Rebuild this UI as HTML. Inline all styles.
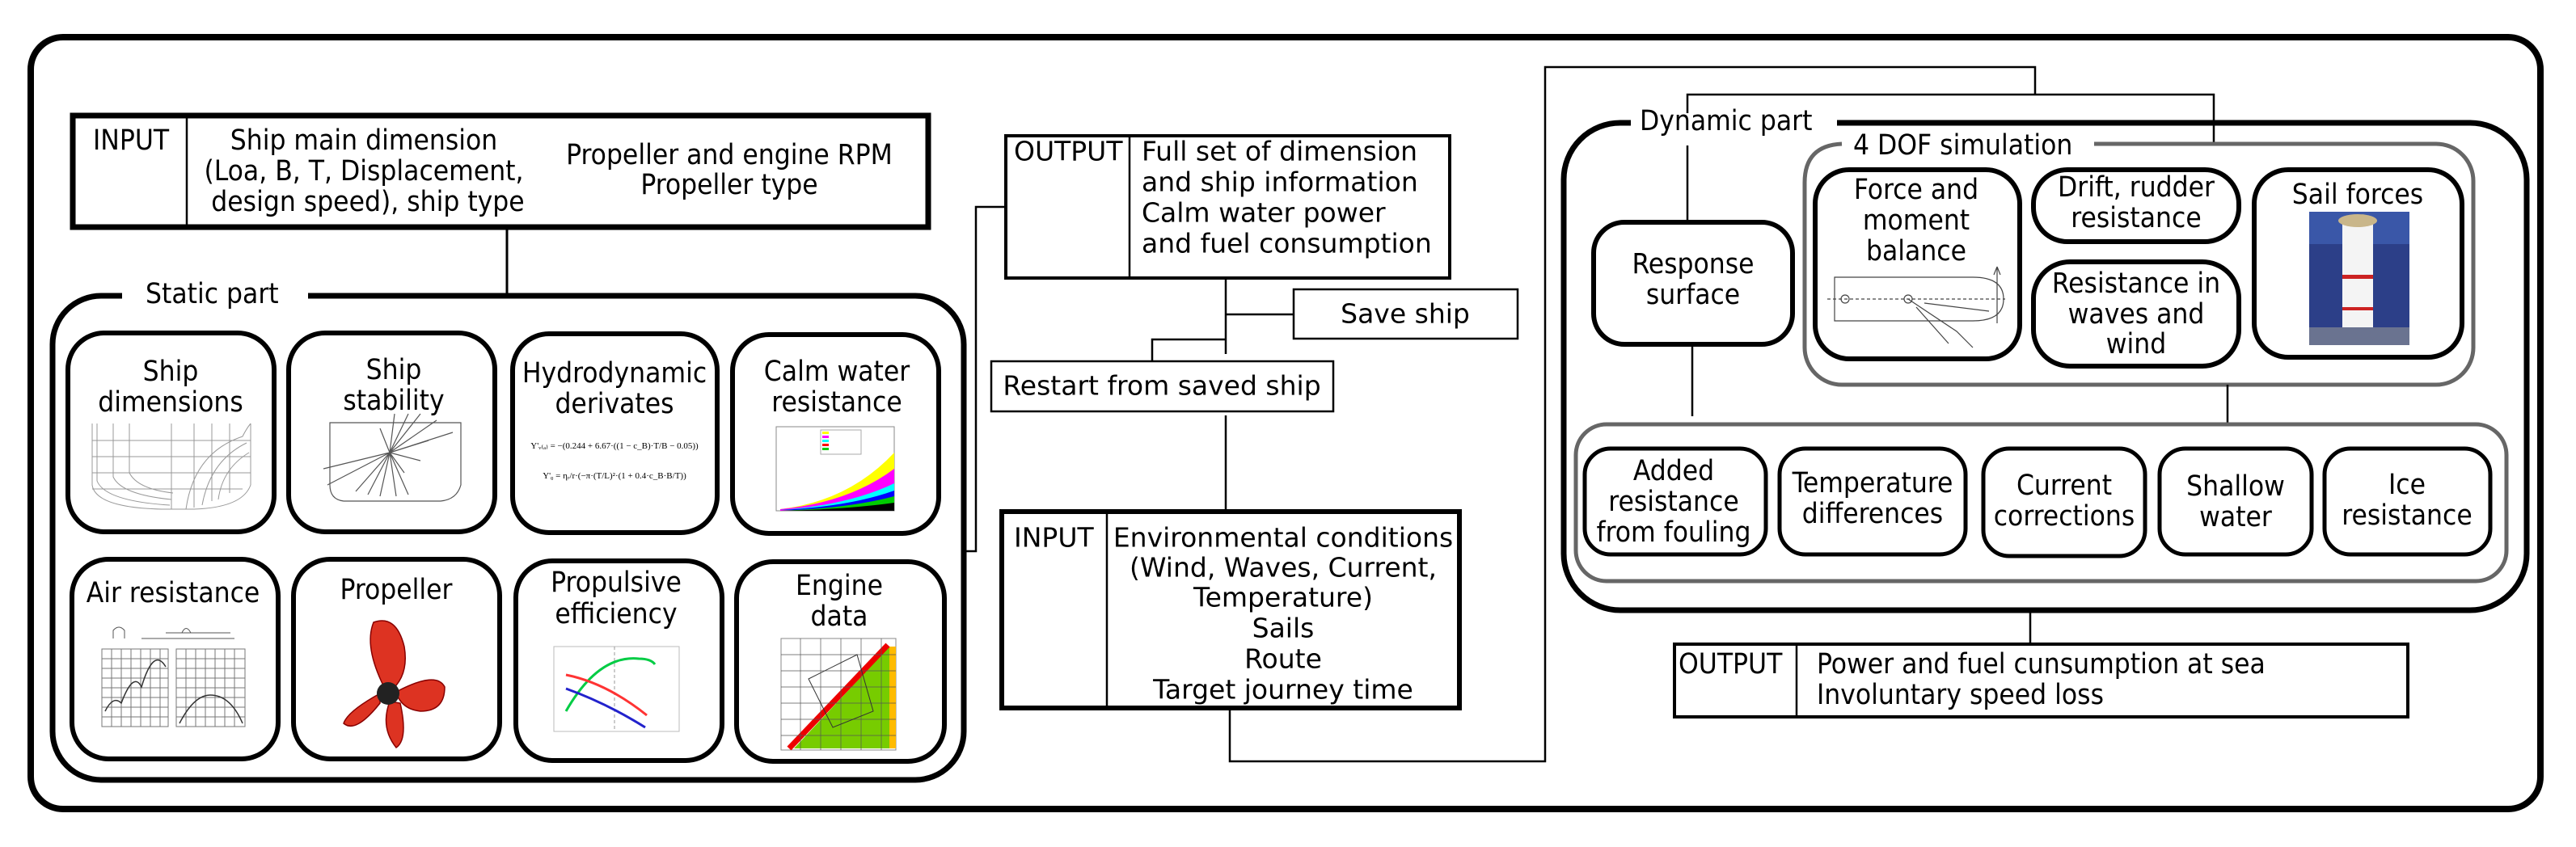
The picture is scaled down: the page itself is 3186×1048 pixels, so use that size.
<!DOCTYPE html>
<html><head><meta charset="utf-8"><style>
html,body{margin:0;padding:0;background:#fff;}
svg{display:block;}
text{font-family:"DejaVu Sans Condensed","DejaVu Sans","Liberation Sans",sans-serif;font-size:35px;fill:#000;dominant-baseline:central;}
.w{font-family:"DejaVu Sans","Liberation Sans",sans-serif;font-stretch:normal;font-size:33px;}
.m{text-anchor:middle;}
</style></head><body>
<svg width="3186" height="1048" viewBox="0 0 3186 1048" xmlns="http://www.w3.org/2000/svg">
<rect x="0" y="0" width="3186" height="1048" fill="#fff"/>
<rect x="38" y="46" width="3104" height="955" rx="40" fill="none" stroke="#000" stroke-width="8"/>

<rect x="90" y="143" width="1058" height="138" fill="none" stroke="#000" stroke-width="7"/>
<line x1="231" y1="146" x2="231" y2="279" stroke="#000" stroke-width="2.5"/>
<text x="115" y="174">INPUT</text>
<text class="m" x="450" y="174">Ship main dimension</text>
<text class="m" x="450" y="212">(Loa, B, T, Displacement,</text>
<text class="m" x="455" y="250">design speed), ship type</text>
<text class="m" x="902" y="192">Propeller and engine RPM</text>
<text class="m" x="902" y="229">Propeller type</text>
<line x1="627" y1="281" x2="627" y2="367" stroke="#000" stroke-width="3"/>

<path d="M151 366 H125 A60 60 0 0 0 65 426 V905 A60 60 0 0 0 125 965 H1132 A60 60 0 0 0 1192 905 V426 A60 60 0 0 0 1132 366 H381" fill="none" stroke="#000" stroke-width="7"/>
<text x="180" y="364">Static part</text>

<g fill="#fff" stroke="#000" stroke-width="6">
<rect x="84" y="412" width="255" height="246" rx="45"/>
<rect x="357" y="412" width="255" height="246" rx="45"/>
<rect x="634" y="413" width="253" height="246" rx="45"/>
<rect x="906" y="414" width="255" height="246" rx="45"/>
<rect x="89" y="692" width="255" height="247" rx="45"/>
<rect x="363" y="692" width="255" height="247" rx="45"/>
<rect x="638" y="694" width="255" height="247" rx="45"/>
<rect x="911" y="695" width="257" height="247" rx="45"/>
</g>
<text class="m" x="211" y="460">Ship</text><text class="m" x="211" y="498">dimensions</text>
<text class="m" x="487" y="458">Ship</text><text class="m" x="487" y="496">stability</text>
<text class="m" x="760" y="462">Hydrodynamic</text><text class="m" x="760" y="500">derivates</text>
<text class="m" x="1035" y="460">Calm water</text><text class="m" x="1035" y="498">resistance</text>
<text class="m" x="214" y="734">Air resistance</text>
<text class="m" x="490" y="730">Propeller</text>
<text class="m" x="762" y="721">Propulsive</text><text class="m" x="762" y="760">efficiency</text>
<text class="m" x="1038" y="725">Engine</text><text class="m" x="1038" y="763">data</text>

<g fill="none" stroke="#999" stroke-width="1">
<path d="M114 524 V600 Q118 628 200 630 H240 Q300 628 310 600 V524"/>
<path d="M114 545 H310 M114 565 H310 M114 585 H310 M114 605 H300"/>
<path d="M120 524 V595 Q130 620 210 625 M140 524 V590 Q150 612 212 618 M160 524 V585 Q170 605 214 610"/>
<path d="M212 524 V630 M240 524 V628 M262 524 V620 M284 524 V610"/>
<path d="M230 630 Q240 560 300 540 Q305 530 310 524 M250 625 Q260 570 305 548 M270 618 Q275 580 308 560"/>
</g>
<g fill="none" stroke="#555" stroke-width="1.2">
<path d="M408 523 H570 V600 Q565 618 545 620 H425 Q408 618 408 600 Z"/>
<path d="M482 560 L440 608 M482 560 L455 612 M482 560 L470 614 M482 560 L490 614 M482 560 L505 612 M482 560 L530 545 M482 560 L560 535 M482 560 L540 520 M482 560 L520 512 M482 560 L505 512 M482 560 L400 580 M482 560 L405 600 M482 560 L488 512"/>
<path d="M482 560 L470 530 M482 560 L500 585 M482 560 L520 570"/>
</g>
<text class="w m" x="760" y="552" style="font-family:'Liberation Serif',serif;font-size:11px">Y'ᵥ₍ₐ₎ = −(0.244 + 6.67·((1 − c_B)·T/B − 0.05))</text>
<text class="w m" x="760" y="589" style="font-family:'Liberation Serif',serif;font-size:11px">Y'ᵨ = ηᵣ/r·(−π·(T/L)²·(1 + 0.4·c_B·B/T))</text>
<g>
<rect x="960" y="528" width="146" height="104" fill="none" stroke="#888" stroke-width="1"/>
<path d="M965 630 Q1050 620 1106 560 V632 H965 Z" fill="#ff0"/>
<path d="M965 630 Q1050 622 1106 580 V632 H965 Z" fill="#f0f"/>
<path d="M965 631 Q1050 625 1106 598 V632 Z" fill="#0ff"/>
<path d="M965 631 Q1050 627 1106 607 V632 Z" fill="#00f"/>
<path d="M965 632 Q1050 629 1106 614 V632 Z" fill="#0c0"/>
<path d="M965 632 Q1050 630 1106 622 V632 Z" fill="#000"/>
<rect x="1015" y="532" width="50" height="30" fill="#fff" stroke="#aaa"/>
<rect x="1017" y="534" width="8" height="3" fill="#ff0"/><rect x="1017" y="539" width="8" height="3" fill="#f0f"/><rect x="1017" y="544" width="8" height="3" fill="#0ff"/><rect x="1017" y="549" width="8" height="3" fill="#f00"/><rect x="1017" y="554" width="8" height="3" fill="#0c0"/>
</g>
<g fill="none" stroke="#777" stroke-width="1">
<rect x="126" y="803" width="82" height="96"/><rect x="218" y="803" width="85" height="96"/>
<path d="M126 815 H208 M126 827 H208 M126 839 H208 M126 851 H208 M126 863 H208 M126 875 H208 M126 887 H208 M138 803 V899 M150 803 V899 M162 803 V899 M174 803 V899 M186 803 V899 M198 803 V899"/>
<path d="M218 815 H303 M218 827 H303 M218 839 H303 M218 851 H303 M218 863 H303 M218 875 H303 M218 887 H303 M230 803 V899 M242 803 V899 M254 803 V899 M266 803 V899 M278 803 V899 M290 803 V899"/>
<path d="M140 790 V780 Q147 772 154 780 V790 M175 790 H290 M205 783 H285 M225 783 Q230 772 236 783" stroke="#555"/>
</g>
<path d="M130 880 Q140 860 150 870 Q165 830 175 850 Q190 800 205 825" fill="none" stroke="#333" stroke-width="1.5"/>
<path d="M222 895 Q240 860 260 860 Q285 860 300 895" fill="none" stroke="#333" stroke-width="1.5"/>
<g fill="#d32" stroke="#800" stroke-width="1.5">
<path d="M475 850 Q450 800 462 770 Q490 760 500 800 Q505 830 490 848 Z"/>
<path d="M492 855 Q540 830 550 850 Q550 880 520 880 Q500 878 492 862 Z"/>
<path d="M470 858 Q430 880 425 895 Q440 908 470 870 Z"/>
<path d="M482 868 Q470 900 490 925 Q505 915 495 870 Z"/>
</g>
<circle cx="480" cy="858" r="14" fill="#222"/>
<g fill="none">
<rect x="685" y="800" width="155" height="105" stroke="#bbb" stroke-width="1"/>
<line x1="760" y1="800" x2="760" y2="905" stroke="#999" stroke-dasharray="4 3"/>
<path d="M700 880 Q740 810 790 815 Q805 815 810 822" stroke="#0c4" stroke-width="3"/>
<path d="M700 835 Q750 845 800 885" stroke="#f33" stroke-width="3"/>
<path d="M700 852 Q750 870 798 900" stroke="#22c" stroke-width="3"/>
</g>
<g>
<rect x="966" y="790" width="142" height="138" fill="#fff" stroke="#888"/>
<path d="M982 926 L1100 800 L1104 800 V926 Z" fill="#7c0"/>
<path d="M1100 800 H1108 V926 H1100 Z" fill="#fb0"/>
<path d="M976 926 L1098 798" stroke="#e00" stroke-width="7"/>
<path d="M966 810 H1108 M966 830 H1108 M966 850 H1108 M966 870 H1108 M966 890 H1108 M966 910 H1108 M990 790 V928 M1015 790 V928 M1040 790 V928 M1065 790 V928 M1090 790 V928" stroke="#555" stroke-width="0.7"/>
<path d="M1000 840 L1060 810 L1080 880 L1030 900 Z" fill="none" stroke="#333" stroke-width="1"/>
</g>

<polyline points="1192,682 1207,682 1207,256 1243,256" fill="none" stroke="#000" stroke-width="2.5"/>

<rect x="1244" y="168" width="549" height="176" fill="none" stroke="#000" stroke-width="4"/>
<line x1="1397" y1="168" x2="1397" y2="344" stroke="#000" stroke-width="2.5"/>
<text class="w" x="1254" y="187">OUTPUT</text>
<text class="w" x="1412" y="187">Full set of dimension</text>
<text class="w" x="1412" y="225">and ship information</text>
<text class="w" x="1412" y="263">Calm water power</text>
<text class="w" x="1412" y="301">and fuel consumption</text>

<line x1="1516" y1="344" x2="1516" y2="438" stroke="#000" stroke-width="2.5"/>
<line x1="1516" y1="389" x2="1600" y2="389" stroke="#000" stroke-width="2.5"/>
<rect x="1600" y="358" width="277" height="61" fill="none" stroke="#000" stroke-width="2.5"/>
<text class="w m" x="1738" y="388">Save ship</text>
<polyline points="1516,420 1425,420 1425,446" fill="none" stroke="#000" stroke-width="2.5"/>
<rect x="1226" y="447" width="423" height="62" fill="none" stroke="#000" stroke-width="2.5"/>
<text class="w m" x="1437" y="477">Restart from saved ship</text>
<line x1="1516" y1="514" x2="1516" y2="632" stroke="#000" stroke-width="2.5"/>

<rect x="1239" y="633" width="566" height="243" fill="none" stroke="#000" stroke-width="6"/>
<line x1="1369" y1="633" x2="1369" y2="876" stroke="#000" stroke-width="2.5"/>
<text class="w" x="1254" y="665">INPUT</text>
<text class="w m" x="1587" y="665">Environmental conditions</text>
<text class="w m" x="1587" y="702">(Wind, Waves, Current,</text>
<text class="w m" x="1587" y="739">Temperature)</text>
<text class="w m" x="1587" y="777">Sails</text>
<text class="w m" x="1587" y="815">Route</text>
<text class="w m" x="1587" y="853">Target journey time</text>

<polyline points="1521,877 1521,942 1911,942 1911,83 2517,83 2517,117" fill="none" stroke="#000" stroke-width="2.5"/>
<polyline points="2087,140 2087,117 2738,117 2738,176" fill="none" stroke="#000" stroke-width="2.5"/>
<line x1="2087" y1="180" x2="2087" y2="274" stroke="#000" stroke-width="2.5"/>

<path d="M2017 152 H2004 A70 70 0 0 0 1934 222 V685 A70 70 0 0 0 2004 755 H3055 A70 70 0 0 0 3125 685 V222 A70 70 0 0 0 3055 152 H2272" fill="none" stroke="#000" stroke-width="7"/>
<text x="2028" y="150">Dynamic part</text>

<path d="M2278 178 Q2232 180 2232 226 V430 A46 46 0 0 0 2278 476 H3013 A46 46 0 0 0 3059 430 V224 A46 46 0 0 0 3013 178 H2590" fill="none" stroke="#666" stroke-width="5"/>
<text x="2292" y="180">4 DOF simulation</text>

<g fill="#fff" stroke="#000" stroke-width="6">
<rect x="1971" y="275" width="246" height="151" rx="38"/>
<rect x="2245" y="210" width="253" height="234" rx="42"/>
<rect x="2515" y="210" width="254" height="89" rx="42"/>
<rect x="2515" y="324" width="254" height="129" rx="45"/>
<rect x="2788" y="210" width="257" height="232" rx="42"/>
</g>
<text class="m" x="2094" y="327">Response</text><text class="m" x="2094" y="365">surface</text>
<text class="m" x="2370" y="235">Force and</text><text class="m" x="2370" y="273">moment</text><text class="m" x="2370" y="311">balance</text>
<text class="m" x="2642" y="232">Drift, rudder</text><text class="m" x="2642" y="270">resistance</text>
<text class="m" x="2642" y="351">Resistance in</text><text class="m" x="2642" y="389">waves and</text><text class="m" x="2642" y="426">wind</text>
<text class="m" x="2916" y="241">Sail forces</text>
<g fill="none" stroke="#444" stroke-width="1.2">
<path d="M2269 343 H2440 Q2478 343 2478 370 Q2478 397 2440 397 H2269 Z"/>
<path d="M2260 370 H2480" stroke-dasharray="4 3"/>
<path d="M2470 330 V400 M2470 330 L2466 340 M2470 330 L2474 340"/>
<circle cx="2282" cy="370" r="5"/><circle cx="2360" cy="370" r="5"/>
<path d="M2360 370 L2420 410 L2440 430 M2380 375 L2460 385 M2370 380 L2410 425"/>
</g>
<rect x="2856" y="262" width="124" height="165" fill="#2c3f88"/>
<rect x="2856" y="262" width="124" height="40" fill="#3a57a8"/>
<rect x="2897" y="275" width="38" height="150" fill="#f4f4f4"/>
<ellipse cx="2916" cy="273" rx="24" ry="8" fill="#c9b68a"/>
<rect x="2897" y="340" width="38" height="5" fill="#c22"/>
<rect x="2897" y="380" width="38" height="4" fill="#c22"/>
<rect x="2856" y="405" width="124" height="22" fill="#6a7390"/>

<line x1="2755" y1="476" x2="2755" y2="525" stroke="#000" stroke-width="2.5"/>
<line x1="2093" y1="426" x2="2093" y2="515" stroke="#000" stroke-width="2.5"/>

<rect x="1949" y="525" width="1151" height="194" rx="38" fill="none" stroke="#666" stroke-width="5"/>
<g fill="#fff" stroke="#000" stroke-width="5">
<rect x="1960" y="555" width="224" height="131" rx="32"/>
<rect x="2201" y="555" width="230" height="131" rx="32"/>
<rect x="2453" y="555" width="200" height="133" rx="32"/>
<rect x="2671" y="555" width="188" height="131" rx="32"/>
<rect x="2875" y="555" width="205" height="131" rx="32"/>
</g>
<text class="m" x="2070" y="583">Added</text><text class="m" x="2070" y="621">resistance</text><text class="m" x="2070" y="659">from fouling</text>
<text class="m" x="2316" y="598">Temperature</text><text class="m" x="2316" y="636">differences</text>
<text class="m" x="2553" y="601">Current</text><text class="m" x="2553" y="639">corrections</text>
<text class="m" x="2765" y="602">Shallow</text><text class="m" x="2765" y="640">water</text>
<text class="m" x="2977" y="600">Ice</text><text class="m" x="2977" y="638">resistance</text>

<line x1="2511" y1="755" x2="2511" y2="797" stroke="#000" stroke-width="2.5"/>
<rect x="2071" y="797" width="907" height="90" fill="none" stroke="#000" stroke-width="4"/>
<line x1="2222" y1="797" x2="2222" y2="887" stroke="#000" stroke-width="2.5"/>
<text x="2076" y="822">OUTPUT</text>
<text x="2247" y="822">Power and fuel cunsumption at sea</text>
<text x="2247" y="860">Involuntary speed loss</text>
</svg>
</body></html>
